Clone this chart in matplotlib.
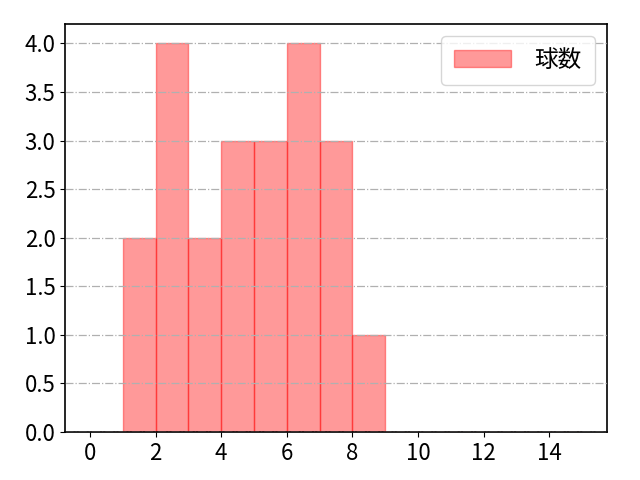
import matplotlib
matplotlib.use('Agg')
import matplotlib.pyplot as plt
import numpy as np

plt.rcParams['font.family'] = ['Noto Sans CJK JP', 'DejaVu Sans']

# histogram bins and counts
bin_edges = list(range(0, 16))
counts = [0, 2, 4, 2, 3, 3, 4, 3, 1, 0, 0, 0, 0, 0, 0]
label = '球数'

fig = plt.figure(figsize=(6.4, 4.8), dpi=100)
ax = fig.add_axes([0.102, 0.1, 0.846, 0.85])

ax.hist(bin_edges[:-1], bins=bin_edges, weights=counts,
        color='red', alpha=0.4, edgecolor='red', linewidth=1, label=label)

ax.set_xticks(np.arange(0, 16, 2))
ax.set_yticks(np.arange(0, 4.01, 0.5))
ax.grid(axis='y', linestyle='-.', color='#b0b0b0', linewidth=0.9)
ax.set_axisbelow(False)
ax.tick_params(labelsize=16)
for s in ax.spines.values():
    s.set_linewidth(1.2)

ax.legend(loc='upper right', fontsize=17, borderpad=0.55, handlelength=2.4,
          handletextpad=1.0)

plt.savefig('out.png', dpi=100)
